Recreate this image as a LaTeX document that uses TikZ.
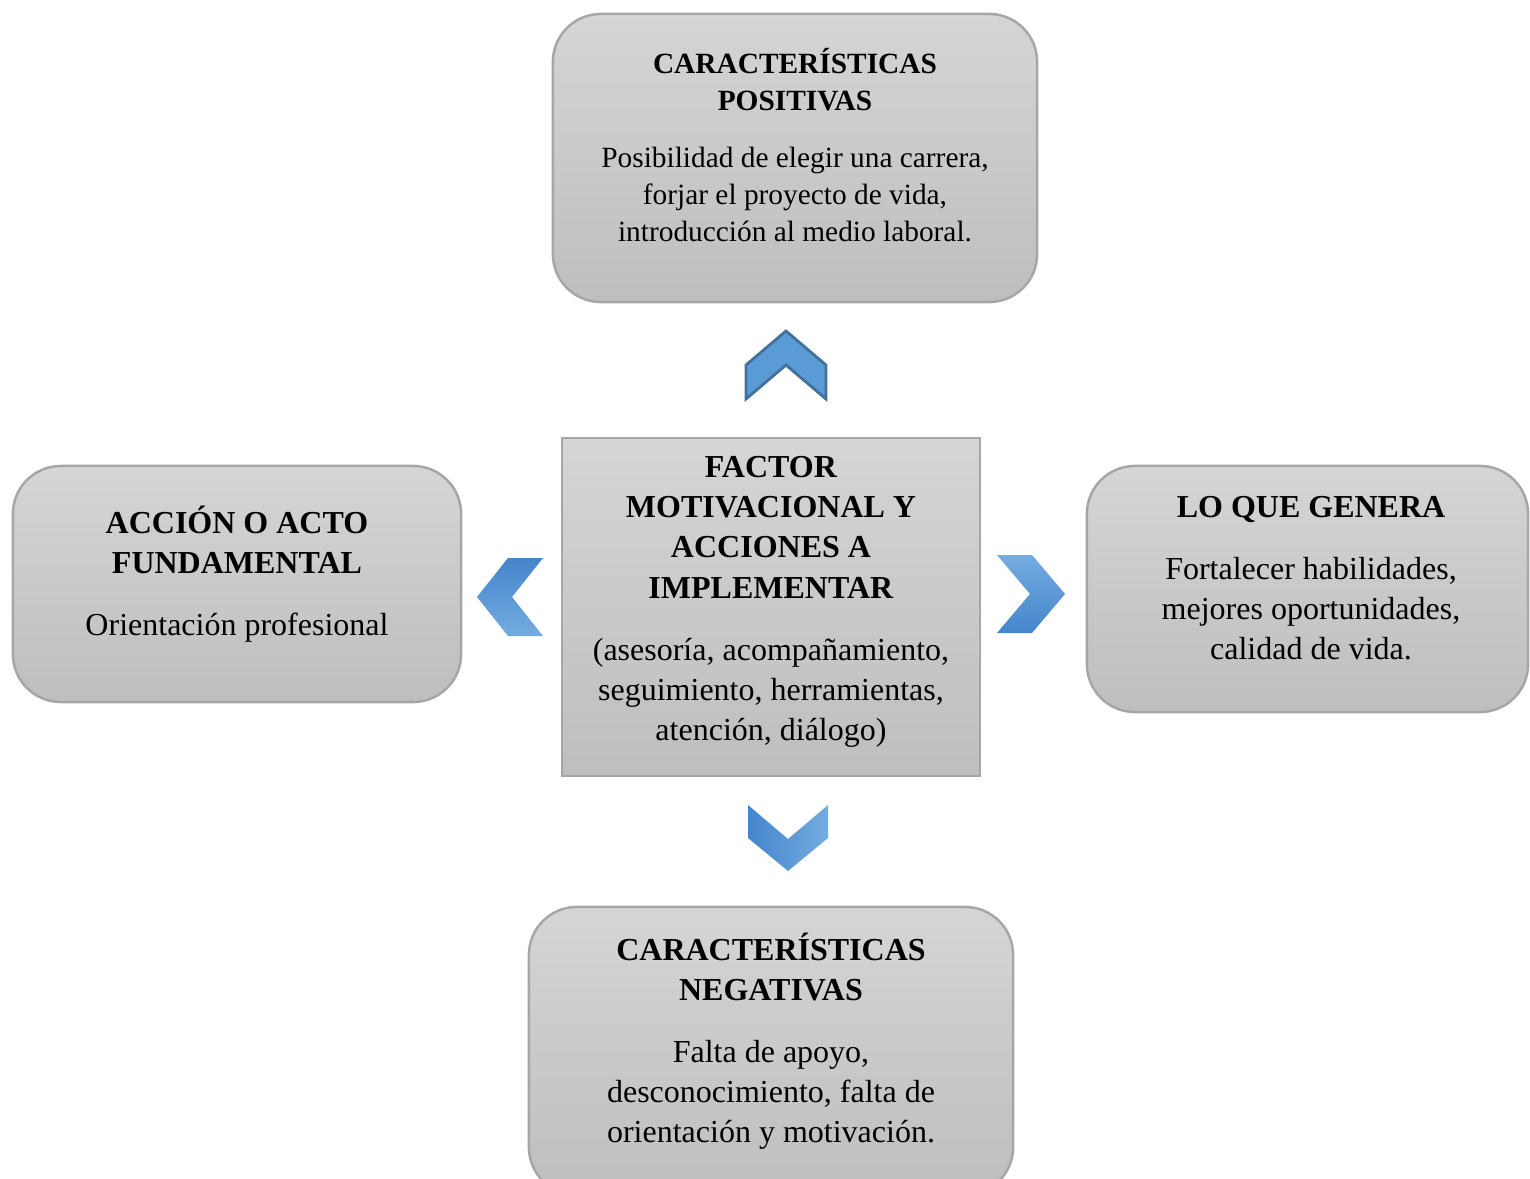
\documentclass[tikz,border=0pt]{standalone}
\usepackage{fontspec}
\setmainfont{Liberation Serif}
\usetikzlibrary{positioning}

\definecolor{boxtop}{HTML}{D5D5D5}
\definecolor{boxbot}{HTML}{BEBEBE}
\definecolor{boxline}{HTML}{A6A6A6}
\definecolor{chev}{HTML}{5B9BD5}
\definecolor{chevdark}{HTML}{4585CC}
\definecolor{chevlight}{HTML}{74ACE0}
\definecolor{chevline}{HTML}{41719C}

\begin{document}
\begin{tikzpicture}[x=0.01cm,y=-0.01cm]
   \tikzset{card/.style={draw=boxline, line width=0.7pt, rounded corners=0.48cm,
              top color=boxtop, bottom color=boxbot, inner sep=0pt},
            core/.style={card, sharp corners},
            txt/.style={align=center, inner sep=0pt, font=\fontsize{9.1pt}{11.4pt}\selectfont},
            txtsmall/.style={txt, font=\fontsize{8.35pt}{10.5pt}\selectfont},
            chevron/.style={draw=chevline, line width=0.8pt, fill=chev}};

\useasboundingbox (0,0) rectangle (1530,1179);
\clip (0,0) rectangle (1530,1179);

% boxes
\node[card, minimum width=4.84cm, minimum height=2.88cm] (pos) at (795,158) {};
\node[card, minimum width=4.48cm, minimum height=2.36cm] (acc) at (237,584) {};
\node[core, minimum width=4.18cm, minimum height=3.38cm] (fac) at (771,607) {};
\node[card, minimum width=4.41cm, minimum height=2.46cm] (gen) at (1307.5,589) {};
\node[card, minimum width=4.84cm, minimum height=2.88cm] (neg) at (771,1051) {};

% texts
\node[txtsmall] (postxt) at (795,145) {\textbf{CARACTERÍSTICAS}\\\textbf{POSITIVAS}\\[5.7pt]
   Posibilidad de elegir una carrera,\\forjar el proyecto de vida,\\introducción al medio laboral.};
\node[txt] (acctxt) at (237,574) {\textbf{ACCIÓN O ACTO}\\\textbf{FUNDAMENTAL}\\[6.3pt]
   Orientación profesional};
\node[txt] (factxt) at (771,602) {\textbf{FACTOR}\\\textbf{MOTIVACIONAL Y}\\\textbf{ACCIONES A}\\\textbf{IMPLEMENTAR}\\[6.3pt]
   (asesoría, acompañamiento,\\seguimiento, herramientas,\\atención, diálogo)};
\node[txt] (gentxt) at (1311,578) {\textbf{LO QUE GENERA}\\[6.3pt]
   Fortalecer habilidades,\\mejores oportunidades,\\calidad de vida.};
\node[txt] (negtxt) at (771,1041) {\textbf{CARACTERÍSTICAS}\\\textbf{NEGATIVAS}\\[6.3pt]
   Falta de apoyo,\\desconocimiento, falta de\\orientación y motivación.};

% chevrons
\filldraw[chevron] (746,399) -- (746,365) -- (786,331) -- (826,365) -- (826,399) -- (786,365) -- cycle;
\shade[top color=chevdark, bottom color=chevlight] (508,558) -- (543,558) -- (512,597) -- (543,636) -- (508,636) -- (477,597) -- cycle;
\shade[top color=chevlight, bottom color=chevdark] (997,555) -- (1032,555) -- (1065,594) -- (1032,633) -- (997,633) -- (1030,594) -- cycle;
\shade[left color=chevdark, right color=chevlight] (748,805) -- (788,839) -- (828,805) -- (828,838) -- (788,871) -- (748,838) -- cycle;

\end{tikzpicture}
\end{document}
